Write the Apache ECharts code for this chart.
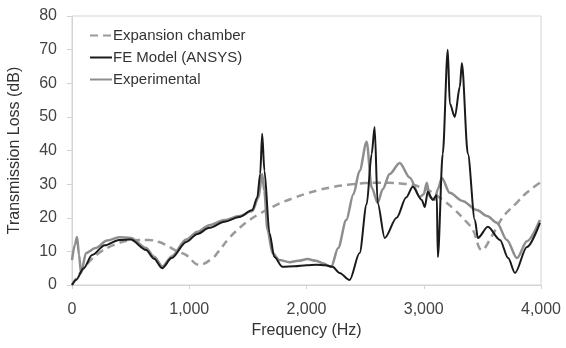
<!DOCTYPE html>
<html>
<head>
<meta charset="utf-8">
<script src="https://cdn.jsdelivr.net/npm/echarts@6/dist/echarts.min.js"></script>
<style>
  html, body { margin: 0; padding: 0; background: #fff; }
  #chart { width: 566px; height: 348px; }
</style>
</head>
<body>
<div id="chart"></div>
<script>
// Expansion chamber (analytical, dashed)
const chamberFreq = [0, 100, 230, 400, 520, 650, 750, 830, 900, 975, 1085, 1200, 1250, 1342, 1430, 1513, 1600, 1709, 1800, 1900, 2000, 2100, 2200, 2300, 2400, 2500, 2600, 2700, 2800, 2900, 2980, 3060, 3162, 3260, 3350, 3419, 3496, 3580, 3675, 3780, 3880, 3991];
const chamberTL = [0, 5, 9.5, 12.5, 13.3, 13.4, 12.7, 11.3, 10, 8.9, 6, 8, 10, 14, 17, 19.3, 21.2, 23.2, 24.7, 26, 27.2, 28.2, 29, 29.6, 30, 30.3, 30.4, 30.4, 30.2, 29.8, 29, 27.8, 25.3, 22.5, 19.3, 16.4, 10.4, 14.5, 20.2, 24, 27.5, 30.4];

// FE model (ANSYS)
const feFreq = [0, 34, 100, 171, 280, 402, 500, 632, 700, 769, 850, 974, 1070, 1171, 1300, 1427, 1538, 1580, 1605, 1622, 1641, 1684, 1726, 1795, 1900, 2000, 2085, 2160, 2222, 2282, 2368, 2453, 2513, 2556, 2581, 2607, 2667, 2769, 2850, 2906, 2983, 3009, 3034, 3077, 3111, 3120, 3162, 3205, 3222, 3265, 3308, 3325, 3376, 3436, 3462, 3547, 3650, 3720, 3778, 3880, 3991];
const feTL = [0, 1.5, 5, 8.9, 11.8, 13.4, 13.5, 10.4, 7.8, 5, 8, 12.8, 15.2, 17, 18.8, 20.2, 22.3, 26, 33, 45, 34, 15.5, 8.3, 5.4, 5.6, 5.9, 6, 5.9, 5.4, 3.6, 1.5, 9.5, 24, 39, 47, 24.4, 14, 20, 26, 29.2, 25.3, 23.2, 27.7, 25.3, 26.8, 8.3, 39, 70, 54, 50, 59, 66, 39, 19.3, 14, 17.3, 13.4, 8, 3.6, 11.3, 18.5];

// Experimental
const testFreq = [0, 25, 43, 60, 77, 120, 200, 300, 402, 500, 632, 700, 772, 850, 974, 1070, 1171, 1300, 1427, 1538, 1590, 1622, 1640, 1667, 1710, 1769, 1855, 1930, 2009, 2080, 2137, 2211, 2270, 2339, 2400, 2453, 2513, 2556, 2607, 2650, 2709, 2795, 2880, 2966, 3000, 3026, 3051, 3094, 3120, 3154, 3222, 3330, 3453, 3540, 3624, 3709, 3795, 3880, 3991];
const testTL = [7.4, 12, 14.3, 9, 3.6, 9.5, 11, 13.2, 14.2, 14, 11, 8.4, 5.5, 8.5, 13.5, 15.8, 17.8, 19.3, 20.5, 22, 26, 33, 28, 16.4, 9.5, 7.4, 6.8, 7.2, 7.7, 7.2, 6.5, 5.4, 11, 19.3, 27, 34, 42.6, 29, 24.4, 28.5, 33, 36.3, 32, 26.2, 27, 30.4, 26.2, 25.3, 28.5, 31.8, 27.4, 25, 22.3, 20.5, 18.5, 13.4, 8, 13, 19.3];

const seriesNames = ['Expansion chamber', 'FE Model (ANSYS)', 'Experimental'];

const pairs = (xs, ys) => xs.map((x, i) => [x, ys[i]]);
const font = 'Liberation Sans, Arial, sans-serif';

const chart = echarts.init(document.getElementById('chart'));

const option = {
  backgroundColor: '#fff',
  animation: false,
  grid: {
    left: 72,
    right: 25,
    top: 16,
    bottom: 63,
    outerBoundsMode: 'none',
    containLabel: false,
    show: true,
    borderColor: '#d4d4d4',
    borderWidth: 1
  },
  legend: {
    orient: 'vertical',
    left: 84,
    top: 23,
    itemWidth: 22,
    itemHeight: 12,
    itemGap: 7,
    data: seriesNames,
    itemStyle: { opacity: 0 },
    textStyle: { fontFamily: font, fontSize: 15, color: '#333', padding: [0, 0, 0, -4] }
  },
  xAxis: {
    type: 'value',
    min: 0,
    max: 4000,
    interval: 1000,
    name: 'Frequency (Hz)',
    nameLocation: 'middle',
    nameGap: 38,
    nameTextStyle: { fontFamily: font, fontSize: 16, color: '#333' },
    axisLine: { lineStyle: { color: '#d4d4d4' } },
    axisTick: { show: true, length: 4, lineStyle: { color: '#d4d4d4' } },
    splitLine: { show: false },
    axisLabel: {
      margin: 17,
      fontFamily: font,
      fontSize: 16,
      color: '#444',
      formatter: v => v.toLocaleString('en-US')
    }
  },
  yAxis: {
    type: 'value',
    min: 0,
    max: 80,
    interval: 10,
    name: 'Transmission Loss (dB)',
    nameLocation: 'middle',
    nameGap: 49,
    nameTextStyle: { fontFamily: font, fontSize: 16, color: '#333' },
    axisLine: { show: true, lineStyle: { color: '#d4d4d4' } },
    axisTick: { show: true, length: 5, lineStyle: { color: '#d4d4d4' } },
    splitLine: { show: false },
    axisLabel: { margin: 15, fontFamily: font, fontSize: 16, color: '#444' }
  },
  series: [
    {
      name: seriesNames[0],
      type: 'line',
      symbol: 'none',
      smooth: 0.4,
      data: pairs(chamberFreq, chamberTL),
      lineStyle: { color: '#9a9a9a', width: 2.5, type: [8, 5] },
      itemStyle: { color: '#9a9a9a' },
      z: 1
    },
    {
      name: seriesNames[2],
      type: 'line',
      symbol: 'none',
      smooth: 0.3,
      smoothMonotone: 'x',
      data: pairs(testFreq, testTL),
      lineStyle: { color: '#8e8e8e', width: 2.5 },
      itemStyle: { color: '#8e8e8e' },
      z: 2
    },
    {
      name: seriesNames[1],
      type: 'line',
      symbol: 'none',
      smooth: 0.3,
      smoothMonotone: 'x',
      data: pairs(feFreq, feTL),
      lineStyle: { color: '#1a1a1a', width: 2 },
      itemStyle: { color: '#1a1a1a' },
      z: 3
    }
  ]
};

chart.setOption(option);
</script>
</body>
</html>
